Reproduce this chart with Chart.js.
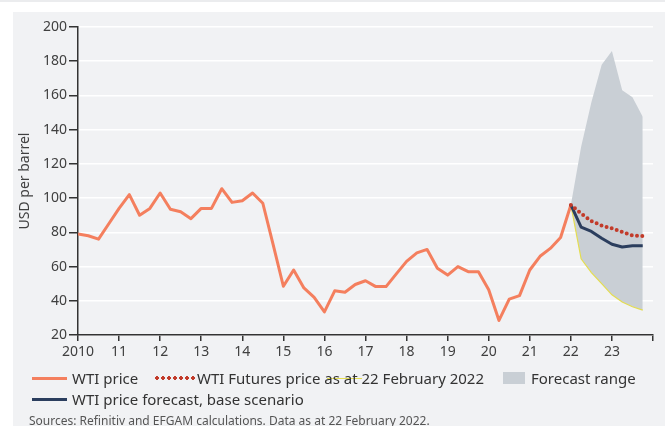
<!DOCTYPE html>
<html>
<head>
<meta charset="utf-8">
<script src="https://cdn.jsdelivr.net/npm/chart.js@4.4.1/dist/chart.umd.min.js"></script>
<style>
  html, body { margin: 0; padding: 0; background: #fff; }
  body { width: 665px; height: 426px; position: relative; overflow: hidden; font-family: "Noto Sans", sans-serif; }
  .strip { position: absolute; left: 0; top: 0; width: 665px; height: 2px; background: #ebecee; }
  .panel { position: absolute; left: 13px; top: 12px; right: 0; bottom: 0; background: #f1f2f4; }
  #chart { position: absolute; left: 0; top: 0; }
  .lg { position: absolute; font-size: 15px; line-height: 20px; color: #333; white-space: nowrap; }
  .sw { position: absolute; }
  .src { position: absolute; left: 29px; top: 413px; font-size: 12px; line-height: 16px; color: #555; white-space: nowrap; }
</style>
</head>
<body>
<div class="strip"></div>
<div class="panel"></div>
<canvas id="chart" width="665" height="426"></canvas>
<div id="legend"></div>
<div class="src">Sources: Refinitiv and EFGAM calculations. Data as at 22 February 2022.</div>
<script>
const COLORS = {
  wti: '#f47f5e',
  futures: '#c23b2a',
  base: '#2b3e5e',
  low: '#e4dd50',
  range: '#c9cfd5',
  axis: '#333333',
  text: '#404040',
  grid: '#ffffff'
};

const START_YEAR = 2010;
const FORECAST_YEAR = 2022;

const xTickLabels = ['2010', '11', '12', '13', '14', '15', '16', '17', '18', '19', '20', '21', '22', '23', ''];
const Y_MIN = 20, Y_MAX = 200, Y_STEP = 20;

const LABELS = {
  wti: 'WTI price',
  futures: 'WTI Futures price as at 22 February 2022',
  range: 'Forecast range',
  base: 'WTI price forecast, base scenario'
};

// quarterly, 2010 Q1 .. 2022 Q1
const wtiPrice = [
  79, 78, 76, 85,
  94, 102, 90, 94,
  103, 93.5, 92, 88,
  94, 94, 105.5, 97.5,
  98.5, 103, 97, 73,
  48.5, 58, 47.5, 42,
  33.5, 45.8, 45, 49.5,
  51.7, 48.3, 48.3, 55.7,
  63, 68, 70, 59,
  55, 60, 57, 57,
  46.5, 28.5, 41, 43,
  58, 66, 70.6, 77,
  96
];

// quarterly, 2022 Q1 .. 2023 Q4
const futuresPrice = [96, 91, 86.6, 84, 82.3, 80.2, 78.2, 77.8];
const baseForecast = [96, 83, 80.5, 76.5, 73, 71.4, 72.2, 72.2];
const rangeHigh = [96, 130, 156, 178, 186, 163, 159, 147.5];
const rangeLow = [96, 64.5, 56.5, 50, 43.5, 39.3, 36.5, 34.5];

function quarterly(values, startYear) {
  return values.map((v, i) => ({ x: startYear + i / 4, y: v }));
}

Chart.defaults.font.family = '"Noto Sans", sans-serif';
Chart.defaults.font.size = 14;
Chart.defaults.color = COLORS.text;

const lineBase = { pointRadius: 0, tension: 0, fill: false };

new Chart(document.getElementById('chart'), {
  type: 'line',
  data: {
    datasets: [
      {
        ...lineBase,
        label: 'Forecast range high',
        data: quarterly(rangeHigh, FORECAST_YEAR),
        borderWidth: 0,
        borderColor: 'rgba(0,0,0,0)',
        backgroundColor: COLORS.range,
        fill: '+1',
        order: 5
      },
      {
        ...lineBase,
        label: 'Forecast range low',
        data: quarterly(rangeLow, FORECAST_YEAR),
        borderWidth: 1.2,
        borderColor: COLORS.low,
        order: 4
      },
      {
        ...lineBase,
        label: LABELS.wti,
        data: quarterly(wtiPrice, START_YEAR),
        borderWidth: 3,
        borderColor: COLORS.wti,
        borderJoinStyle: 'round',
        order: 3
      },
      {
        ...lineBase,
        label: LABELS.base,
        data: quarterly(baseForecast, FORECAST_YEAR),
        borderWidth: 3,
        borderColor: COLORS.base,
        borderJoinStyle: 'round',
        order: 2
      },
      {
        ...lineBase,
        label: LABELS.futures,
        data: quarterly(futuresPrice, FORECAST_YEAR),
        borderWidth: 4,
        borderColor: COLORS.futures,
        borderDash: [0, 5.3],
        borderCapStyle: 'round',
        order: 1
      }
    ]
  },
  options: {
    responsive: false,
    animation: false,
    devicePixelRatio: 1,
    layout: { padding: { left: 0, top: 27, right: 12, bottom: 0 } },
    plugins: {
      legend: { display: false },
      tooltip: { enabled: false }
    },
    scales: {
      x: {
        type: 'linear',
        min: START_YEAR,
        max: START_YEAR + xTickLabels.length - 1,
        afterFit: s => { s.height = 91; },
        grid: {
          drawOnChartArea: false,
          drawTicks: true,
          tickLength: 6,
          tickColor: COLORS.axis,
          lineWidth: 1.5
        },
        border: { color: COLORS.axis, width: 1.5 },
        ticks: {
          stepSize: 1,
          autoSkip: false,
          maxRotation: 0,
          padding: 3,
          color: COLORS.text,
          callback: (v, i) => xTickLabels[i]
        }
      },
      y: {
        min: Y_MIN,
        max: Y_MAX,
        afterFit: s => { s.width = 78; },
        grid: {
          color: COLORS.grid,
          lineWidth: 1.5,
          drawTicks: true,
          tickLength: 9,
          tickColor: COLORS.axis
        },
        border: { color: COLORS.axis, width: 1.5 },
        ticks: { stepSize: Y_STEP, padding: 2, color: COLORS.text },
        title: {
          display: true,
          text: 'USD per barrel',
          color: COLORS.text,
          font: { size: 14 },
          padding: { top: 17, bottom: 0 }
        }
      }
    }
  }
});

// legend as html, laid out like the original
const legend = document.getElementById('legend');
const items = [
  { swatch: `left:32px;top:376.5px;width:35px;height:3px;background:${COLORS.wti}` },
  { swatch: `left:154px;top:376px;width:42px;height:4px;background-image:radial-gradient(circle, ${COLORS.futures} 1.6px, transparent 2.1px);background-size:6px 4px;background-repeat:repeat-x` },
  { swatch: `left:327px;top:377.5px;width:35px;height:1.5px;background:${COLORS.low}` },
  { swatch: `left:503px;top:372px;width:22px;height:12px;background:${COLORS.range}` },
  { swatch: `left:32px;top:397.5px;width:35px;height:3px;background:${COLORS.base}` },
  { text: LABELS.wti, pos: 'left:72px;top:368px' },
  { text: LABELS.futures, pos: 'left:197px;top:368px' },
  { text: LABELS.range, pos: 'left:531px;top:368px' },
  { text: LABELS.base, pos: 'left:72px;top:389px' }
];
legend.innerHTML = items.map(it => it.swatch
  ? `<div class="sw" style="${it.swatch}"></div>`
  : `<div class="lg" style="${it.pos}">${it.text}</div>`
).join('');
</script>
</body>
</html>
